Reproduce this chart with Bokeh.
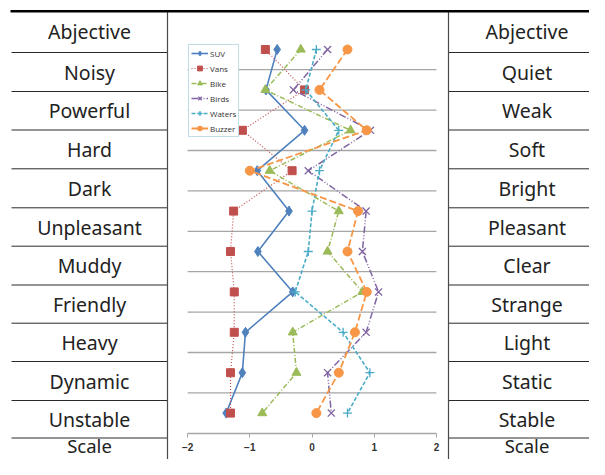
from bokeh.plotting import figure
from bokeh.models import Range1d, LinearAxis, FixedTicker, Legend, LegendItem, ColumnDataSource
from bokeh.core.properties import value
from bokeh.embed import file_html
from bokeh.resources import INLINE

# ---------------- data ----------------
left_labels = ["Abjective", "Noisy", "Powerful", "Hard", "Dark", "Unpleasant",
               "Muddy", "Friendly", "Heavy", "Dynamic", "Unstable", "Scale"]
right_labels = ["Abjective", "Quiet", "Weak", "Soft", "Bright", "Pleasant",
                "Clear", "Strange", "Light", "Static", "Stable", "Scale"]
pairs = left_labels[1:11]

series_names = ["SUV", "Vans", "Bike", "Birds", "Waters", "Buzzer"]
suv    = [-0.56, -0.74, -0.12, -0.88, -0.37, -0.87, -0.31, -1.07, -1.12, -1.38]
vans   = [-0.75, -0.12, -1.12, -0.32, -1.26, -1.31, -1.25, -1.25, -1.31, -1.31]
bike   = [-0.18, -0.75,  0.62, -0.68,  0.43,  0.25,  0.81, -0.31, -0.25, -0.80]
birds  = [ 0.25, -0.30,  0.94, -0.06,  0.87,  0.81,  1.07,  0.87,  0.25,  0.31]
waters = [ 0.07, -0.10,  0.43,  0.12,  0.00, -0.06, -0.27,  0.50,  0.93,  0.57]
buzzer = [ 0.57,  0.12,  0.88, -1.00,  0.74,  0.57,  0.88,  0.69,  0.43,  0.07]
x_ticks = [-2, -1, 0, 1, 2]

series_values = [suv, vans, bike, birds, waters, buzzer]

# ---------------- styles ----------------
colors = ["#4F81BD", "#C0504D", "#9BBB59", "#8064A2", "#4BACC6", "#F79646"]
dashes = ["solid", "1 2", "5 2 1 2", "7 2 1 2 1 2", "4 2", "7 3"]
markers = ["diamond", "square", "triangle", "x", "cross", "circle"]
msizes = [10, 8, 9, 10, 9, 9]
lwidths = [1.6, 1.2, 1.5, 1.5, 1.6, 1.8]

W, H = 589, 459
p = figure(width=W, height=H, output_backend="svg", toolbar_location=None,
           x_axis_location=None, y_axis_location=None,
           x_range=Range1d(-5.008, 4.461), y_range=Range1d(11.1485, -0.2129),
           min_border=0, outline_line_color=None)
p.grid.visible = False
p.background_fill_color = "white"

# pixel-space ranges for the table frame
p.extra_x_ranges = {"px": Range1d(0, W)}
p.extra_y_ranges = {"px": Range1d(H, 0)}

# table row boundaries
row_bounds = [52, 91, 129.5, 168.3, 207.3, 245.7, 284.5, 322.7, 361, 400, 437.5]
top_y, bot_y = 10, H + 5
col_l, col_r = 167, 448
left_x0, right_x1 = 11, W + 5

p.segment(x0=[left_x0] * len(row_bounds), y0=row_bounds, x1=[col_l] * len(row_bounds), y1=row_bounds,
          x_range_name="px", y_range_name="px", line_color="#2a2a2a", line_width=1)
p.segment(x0=[col_r] * len(row_bounds), y0=row_bounds, x1=[right_x1] * len(row_bounds), y1=row_bounds,
          x_range_name="px", y_range_name="px", line_color="#2a2a2a", line_width=1)
p.segment(x0=[col_l, col_r], y0=[top_y, top_y], x1=[col_l, col_r], y1=[bot_y, bot_y],
          x_range_name="px", y_range_name="px", line_color="#4a4a4a", line_width=1.2)
p.segment(x0=[10], y0=[top_y + 0.8], x1=[right_x1], y1=[top_y + 0.8],
          x_range_name="px", y_range_name="px", line_color="black", line_width=2.6)

bounds_all = [top_y] + row_bounds
centers = [(bounds_all[i] + bounds_all[i + 1]) / 2 for i in range(len(row_bounds))]
n_main = len(centers)
p.text(x=[89] * n_main, y=centers, text=left_labels[:n_main],
       x_range_name="px", y_range_name="px", text_align="center", text_baseline="middle",
       text_font=value("Noto Sans"), text_font_size="19.5px", text_color="#222222")
p.text(x=[526.5] * n_main, y=centers, text=right_labels[:n_main],
       x_range_name="px", y_range_name="px", text_align="center", text_baseline="middle",
       text_font=value("Noto Sans"), text_font_size="19.5px", text_color="#222222")
# last (partly visible) row
p.text(x=[89, 526.5], y=[H - 1.5, H - 1.5], text=[left_labels[-1], right_labels[-1]],
       x_range_name="px", y_range_name="px", text_align="center", text_baseline="bottom",
       text_font=value("Noto Sans"), text_font_size="18.5px", text_color="#222222")

# chart gridlines between categories
ypos = list(range(1, len(pairs) + 1))
gy = [y + 0.5 for y in ypos[:-1]]
p.segment(x0=[x_ticks[0]] * len(gy), y0=gy, x1=[x_ticks[-1]] * len(gy), y1=gy,
          line_color="#A6A6A6", line_width=1.3)

# series
items = []
for name, vals, c, d, m, s, lw in zip(series_names, series_values, colors, dashes, markers, msizes, lwidths):
    src = ColumnDataSource(dict(x=vals, y=ypos))
    lr = p.line("x", "y", source=src, line_color=c, line_width=lw, line_dash=d)
    if m in ("x", "cross"):
        sr = p.scatter("x", "y", source=src, marker=m, size=s, line_color=c, line_width=1.3)
    else:
        sr = p.scatter("x", "y", source=src, marker=m, size=s, fill_color=c, line_color=c)
    items.append(LegendItem(label=name, renderers=[lr, sr]))

legend = Legend(items=items, location=(188, 322), orientation="vertical",
                label_text_font="Open Sans", label_text_font_size="8px",
                label_text_color="#333333", label_height=12, glyph_height=12,
                glyph_width=17, label_standoff=2, label_width=22, spacing=3,
                padding=2, margin=0, border_line_color="#84BCD0", border_line_width=1.2,
                background_fill_color="white", background_fill_alpha=1)
p.add_layout(legend, "center")

# x axis inside the chart
ax = LinearAxis(fixed_location=len(pairs) + 0.5, bounds=(x_ticks[0], x_ticks[-1]),
                ticker=FixedTicker(ticks=x_ticks))
ax.axis_line_color = "#A6A6A6"
ax.axis_line_width = 1.5
ax.major_tick_line_color = "#A6A6A6"
ax.major_tick_out = 4
ax.major_tick_in = 0
ax.minor_tick_line_color = None
ax.major_label_text_font = "Liberation Sans"
ax.major_label_text_font_style = "bold"
ax.major_label_text_font_size = "10px"
ax.major_label_text_color = "#333333"
ax.major_label_standoff = 6
p.add_layout(ax, "below")

open("out.html", "w").write(file_html(p, INLINE))
